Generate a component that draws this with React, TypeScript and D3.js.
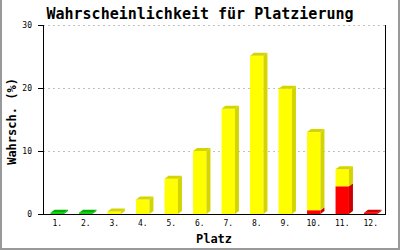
import React from "react";
import * as d3 from "d3";

const categories = ["1.", "2.", "3.", "4.", "5.", "6.", "7.", "8.", "9.", "10.", "11.", "12."];
const redValues = [0, 0, 0, 0, 0, 0, 0, 0, 0, 0.6, 4.4, 0.2];
const yellowValues = [0, 0, 0.4, 2.3, 5.6, 10.0, 16.7, 25.1, 19.9, 12.4, 2.7, 0];
const greenValues = [0.2, 0.2, 0, 0, 0, 0, 0, 0, 0, 0, 0, 0];
const yTicks = [0, 10, 20, 30];

const series = [
  { values: redValues, front: "#ff0000", side: "#cc0000" },
  { values: yellowValues, front: "#ffff00", side: "#d4d400" },
  { values: greenValues, front: "#00dd00", side: "#00b000" },
];

const W = 400, H = 250;
const left = 43, right = 385, top = 25, bottom = 214;
const DX = 4, DY = 3;
const mono = "'DejaVu Sans Mono', 'Liberation Mono', monospace";

export default function App() {
  const x = d3.scaleBand<string>().domain(categories).range([left, right]).paddingInner(0.53).paddingOuter(0.265);
  const y = d3.scaleLinear().domain([0, 30]).range([bottom, top]);

  const stack = d3.stack<number>()
    .keys(series.map((_, i) => String(i)))
    .value((d, key) => series[+key].values[d]);
  const stacked = stack(categories.map((_, i) => i));

  const bars: React.ReactNode[] = [];
  categories.forEach((c, ci) => {
    const x0 = x(c)!;
    const x1 = x0 + x.bandwidth();
    let topIdx = -1;
    stacked.forEach((s, si) => { if (s[ci][1] - s[ci][0] > 0) topIdx = si; });
    stacked.forEach((s, si) => {
      const [v0, v1] = s[ci];
      if (v1 - v0 <= 0) return;
      const yt = y(v1), yb = y(v0);
      const col = series[si];
      bars.push(
        <g key={`${ci}-${si}`}>
          <rect x={x0} y={yt} width={x1 - x0} height={yb - yt} fill={col.front} />
          <polygon points={`${x1},${yt} ${x1 + DX},${yt - DY} ${x1 + DX},${yb - DY} ${x1},${yb}`} fill={col.side} />
          {si === topIdx && (
            <polygon points={`${x0},${yt} ${x0 + DX},${yt - DY} ${x1 + DX},${yt - DY} ${x1},${yt}`} fill={col.side} />
          )}
        </g>
      );
    });
  });

  return (
    <svg width={W} height={H} style={{ position: "absolute", left: 0, top: 0, background: "#fff" }}>
      <rect x={0} y={0} width={W} height={H} fill="#fff" />
      <line x1={1} y1={0} x2={1} y2={H} stroke="#999" strokeWidth={2} />
      <line x1={W - 1} y1={0} x2={W - 1} y2={H} stroke="#999" strokeWidth={2} />
      <line x1={0} y1={H - 1} x2={W} y2={H - 1} stroke="#999" strokeWidth={2} />

      <text x={200} y={19} textAnchor="middle" fontFamily={mono} fontWeight="bold" fontSize={15} fill="#000">
        Wahrscheinlichkeit für Platzierung
      </text>

      {yTicks.filter(t => t > 0).map(t => (
        <line key={t} x1={left} x2={right} y1={y(t) + 0.5} y2={y(t) + 0.5} stroke="#c0c0c0" strokeDasharray="2,3" />
      ))}

      {bars}

      <line x1={left + 0.5} y1={top} x2={left + 0.5} y2={bottom + 1} stroke="#000" />
      <line x1={right + 0.5} y1={top} x2={right + 0.5} y2={bottom + 1} stroke="#000" />
      <line x1={left} y1={bottom + 0.5} x2={right + 1} y2={bottom + 0.5} stroke="#000" />
      {yTicks.map(t => (
        <g key={t}>
          <line x1={left - 5} x2={left} y1={y(t) + 0.5} y2={y(t) + 0.5} stroke="#000" />
          <text x={32} y={y(t) + 3} textAnchor="end" fontFamily={mono} fontSize={8} fill="#000">{t}</text>
        </g>
      ))}
      {categories.map(c => (
        <text key={c} x={x(c)! + x.bandwidth() / 2} y={226} textAnchor="middle" fontFamily={mono} fontSize={8} fill="#000">{c}</text>
      ))}

      <text x={(left + right) / 2} y={243} textAnchor="middle" fontFamily={mono} fontWeight="bold" fontSize={12} fill="#000">Platz</text>
      <text transform={`translate(16, ${(top + bottom) / 2 + 2}) rotate(-90)`} textAnchor="middle" fontFamily={mono} fontWeight="bold" fontSize={12} fill="#000">Wahrsch. (%)</text>
    </svg>
  );
}
